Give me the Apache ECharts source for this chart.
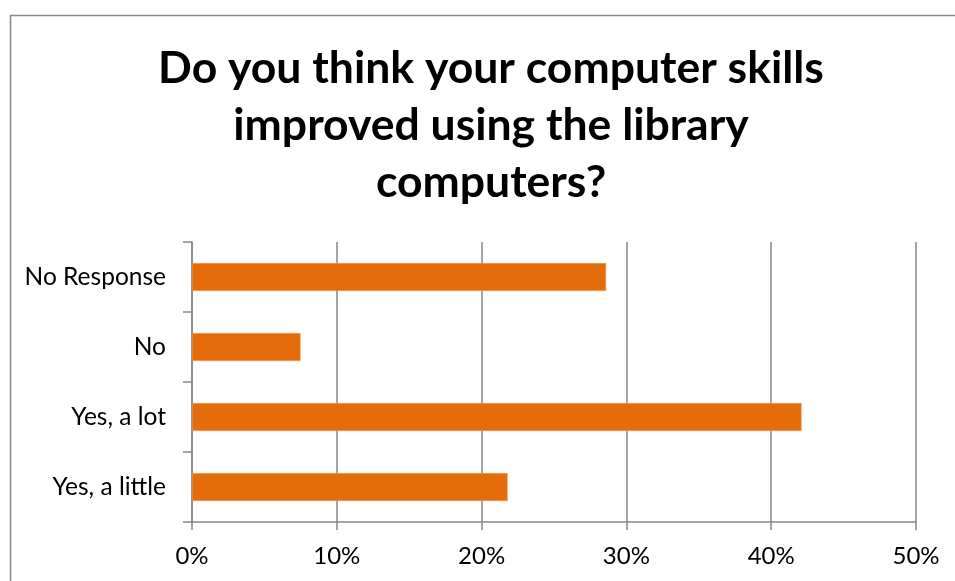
<!DOCTYPE html>
<html>
<head>
<meta charset="utf-8">
<script src="https://cdn.jsdelivr.net/npm/echarts@6/dist/echarts.min.js"></script>
<style>
  html, body { margin: 0; padding: 0; background: #fff; }
  #chart { width: 955px; height: 581px; }
</style>
</head>
<body>
<div id="chart"></div>
<script>
// Survey answers, listed bottom to top as drawn on the category axis
const categories = ['Yes, a little', 'Yes, a lot', 'No', 'No Response'];
// Share of respondents for each answer (fraction of 1)
const shares = [0.218, 0.421, 0.075, 0.286];
// Value axis ticks
const tickMin = 0;
const tickMax = 0.5;
const tickStep = 0.1;

const titleText = 'Do you think your computer skills\nimproved using the library\ncomputers?';
const FONT = 'Lato, "Open Sans", sans-serif';
const GRAY = '#868686';

const chart = echarts.init(document.getElementById('chart'), null, { renderer: 'canvas' });

chart.setOption({
  animation: false,
  backgroundColor: '#ffffff',
  graphic: [{
    type: 'rect',
    left: 8, top: 13,
    shape: { width: 1000, height: 1000 },
    style: { fill: 'none', stroke: GRAY, lineWidth: 1.5 },
    silent: true
  }],
  title: {
    text: titleText,
    left: 486,
    top: 35,
    textAlign: 'center',
    textStyle: {
      fontFamily: FONT,
      fontWeight: 'bold',
      fontSize: 44.5,
      lineHeight: 57,
      color: '#000'
    }
  },
  grid: { left: 192, right: 39, top: 242, bottom: 59, containLabel: false },
  xAxis: {
    type: 'value',
    min: tickMin,
    max: tickMax,
    interval: tickStep,
    axisLine: { show: true, lineStyle: { color: GRAY, width: 1.5 } },
    axisTick: { show: true, length: 8, lineStyle: { color: GRAY, width: 1.5 } },
    splitLine: { show: true, lineStyle: { color: GRAY, width: 1.5 } },
    axisLabel: {
      margin: 22,
      fontFamily: FONT,
      fontSize: 24,
      color: '#000',
      formatter: v => Math.round(v * 100) + '%'
    }
  },
  yAxis: {
    type: 'category',
    data: categories,
    axisLine: { show: true, lineStyle: { color: GRAY, width: 1.5 } },
    axisTick: { show: true, length: 9, alignWithLabel: false, lineStyle: { color: GRAY, width: 1.5 } },
    axisLabel: {
      margin: 26,
      fontFamily: FONT,
      fontSize: 24.5,
      color: '#000'
    }
  },
  series: [{
    type: 'bar',
    data: shares,
    barWidth: 28,
    itemStyle: { color: '#E46C0A', borderColor: '#F0A060', borderWidth: 0.6 }
  }]
});
</script>
</body>
</html>
